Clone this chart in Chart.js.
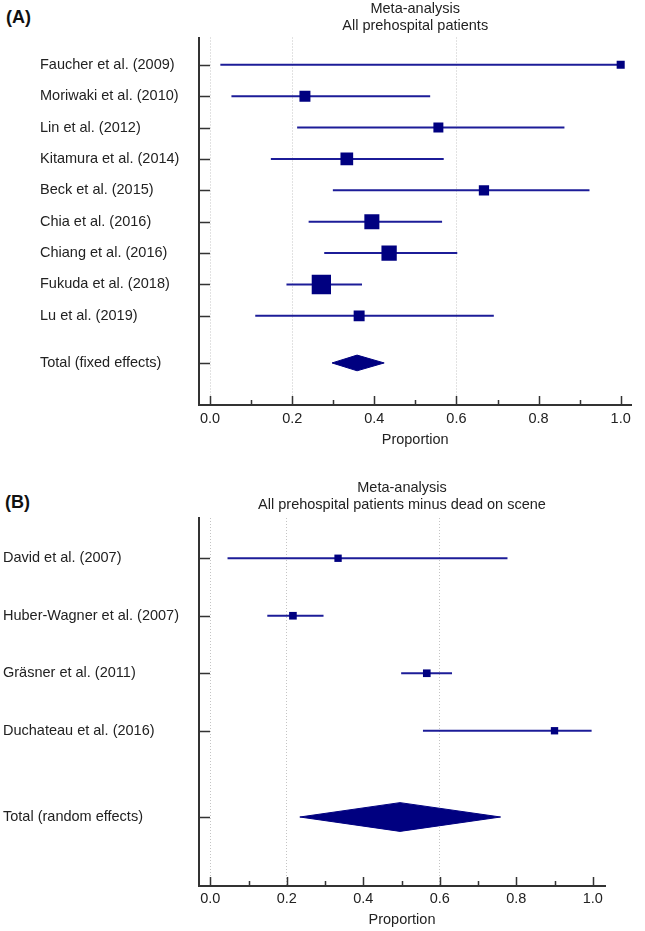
<!DOCTYPE html>
<html lang="en">
<head>
<meta charset="UTF-8">
<title>Meta-analysis forest plots</title>
<script src="https://cdn.jsdelivr.net/npm/chart.js"></script>
<style>
    html, body { margin: 0; padding: 0; background: #fff; }
    body { width: 645px; height: 931px; position: relative; overflow: hidden; font-family: "Liberation Sans", Arial, sans-serif; }
    .panel-tag { position: absolute; font-weight: bold; font-size: 18px; line-height: 1; color: #111; }
    .chart-box { position: absolute; left: 0; width: 645px; }
</style>
</head>
<body>
<div class="panel-tag" style="left:6px; top:8px;">(A)</div>
<div class="panel-tag" style="left:5px; top:493px;">(B)</div>
<div class="chart-box" style="top:0; height:460px;"><canvas id="forestA"></canvas></div>
<div class="chart-box" style="top:460px; height:480px;"><canvas id="forestB"></canvas></div>

<script>
// Panel A - all prehospital patients
const studiesA = ['Faucher et al. (2009)', 'Moriwaki et al. (2010)', 'Lin et al. (2012)', 'Kitamura et al. (2014)',
    'Beck et al. (2015)', 'Chia et al. (2016)', 'Chiang et al. (2016)', 'Fukuda et al. (2018)', 'Lu et al. (2019)'];
const estA = [1.0, 0.231, 0.556, 0.333, 0.667, 0.394, 0.436, 0.271, 0.363];
const lowA = [0.025, 0.052, 0.212, 0.148, 0.299, 0.240, 0.278, 0.186, 0.110];
const highA = [1.0, 0.536, 0.863, 0.569, 0.924, 0.565, 0.602, 0.370, 0.691];
const weightA = [4.3, 8.0, 6.6, 10.7, 7.0, 15.0, 15.6, 24.7, 8.0];
const totalA = ['Total (fixed effects)', 0.297, 0.358, 0.424]; // label, low, est, high

// Panel B - minus dead on scene
const studiesB = ['David et al. (2007)', 'Huber-Wagner et al. (2007)', 'Gräsner et al. (2011)', 'Duchateau et al. (2016)'];
const estB = [0.334, 0.216, 0.566, 0.900];
const lowB = [0.045, 0.149, 0.499, 0.556];
const highB = [0.777, 0.296, 0.632, 0.997];
const weightB = [24, 26, 26, 24];
const totalB = ['Total (random effects)', 0.234, 0.496, 0.759];

// axis
const xTickValues = [0, 0.1, 0.2, 0.3, 0.4, 0.5, 0.6, 0.7, 0.8, 0.9, 1.0];
const xTickLabels = ['0.0', '', '0.2', '', '0.4', '', '0.6', '', '0.8', '', '1.0'];
const xGridValues = [0, 0.2, 0.6];

const NAVY = '#000080';
const CI_COLOR = '#1c1c98';
const AXIS = '#333';
const TEXT = '#222';
const FONT_SIZE = 14.5;

Chart.defaults.font.family = '"Liberation Sans", Arial, sans-serif';
Chart.defaults.font.size = FONT_SIZE;
Chart.defaults.color = TEXT;

// small inward tick marks like the original software
const tickMarks = {
    id: 'tickMarks',
    afterDatasetsDraw(chart) {
        const {ctx, chartArea, scales: {x, y}} = chart;
        ctx.save();
        ctx.strokeStyle = AXIS;
        ctx.lineWidth = 1.5;
        ctx.beginPath();
        x.ticks.forEach((t, i) => {
            const px = Math.round(x.getPixelForValue(t.value)) + 0.5;
            ctx.moveTo(px, chartArea.bottom);
            ctx.lineTo(px, chartArea.bottom - (i % 2 === 0 ? 9 : 5));
        });
        y.ticks.forEach(t => {
            const py = Math.round(y.getPixelForValue(t.value)) + 0.5;
            ctx.moveTo(chartArea.left, py);
            ctx.lineTo(chartArea.left + 11, py);
        });
        ctx.stroke();
        ctx.restore();
    }
};

// two-line heading centred over the plot area
const panelTitle = {
    id: 'panelTitle',
    afterDraw(chart, args, opts) {
        const {ctx, chartArea} = chart;
        const cx = (chartArea.left + chartArea.right) / 2;
        ctx.save();
        ctx.fillStyle = TEXT;
        ctx.font = FONT_SIZE + 'px "Liberation Sans", Arial, sans-serif';
        ctx.textAlign = 'center';
        ctx.textBaseline = 'middle';
        opts.lines.forEach((t, k) => ctx.fillText(t, cx, opts.top + k * 17));
        ctx.restore();
    }
};

function forest(id, cfg) {
    const n = cfg.studies.length;
    const totalPos = n + 0.5;
    const yTicks = cfg.studies.map((s, i) => i).concat([totalPos]);
    const yLabels = cfg.studies.concat([cfg.total[0]]);
    const half = 0.25; // diamond half height in row units

    const datasets = [{
        // point estimates, square area ~ weight
        data: cfg.est.map((v, i) => ({x: v, y: i})),
        pointStyle: 'rect',
        pointRadius: cfg.weight.map(w => Math.sqrt(w) * cfg.boxScale * Math.SQRT1_2),
        backgroundColor: NAVY,
        borderWidth: 0,
        showLine: false
    }];

    cfg.low.forEach((lo, i) => {
        datasets.push({
            data: [{x: lo, y: i}, {x: cfg.high[i], y: i}],
            showLine: true,
            borderColor: CI_COLOR,
            borderWidth: 2,
            pointRadius: 0
        });
    });

    const [, tLo, tEst, tHi] = cfg.total;
    datasets.push({
        data: [
            {x: tLo, y: totalPos}, {x: tEst, y: totalPos - half},
            {x: tHi, y: totalPos}, {x: tEst, y: totalPos + half},
            {x: tLo, y: totalPos}
        ],
        showLine: true,
        fill: 'shape',
        backgroundColor: NAVY,
        borderColor: NAVY,
        borderWidth: 1,
        pointRadius: 0,
        tension: 0
    });

    return new Chart(document.getElementById(id), {
        type: 'scatter',
        data: {datasets},
        plugins: [tickMarks, panelTitle],
        options: {
            responsive: true,
            maintainAspectRatio: false,
            animation: false,
            layout: {padding: cfg.padding},
            plugins: {
                legend: {display: false},
                tooltip: {enabled: false},
                panelTitle: {lines: cfg.title, top: cfg.titleTop}
            },
            scales: {
                x: {
                    type: 'linear',
                    min: cfg.xMin,
                    max: cfg.xMax,
                    afterBuildTicks: s => { s.ticks = xTickValues.map(v => ({value: v})); },
                    afterFit: s => { s.height = 50; },
                    ticks: {
                        autoSkip: false,
                        maxRotation: 0,
                        padding: cfg.xTickPad,
                        callback: (v, i) => xTickLabels[i]
                    },
                    grid: {
                        drawTicks: false,
                        lineWidth: 1,
                        color: c => (c.tick && xGridValues.includes(c.tick.value)) ? '#c4c4c4' : 'rgba(0,0,0,0)'
                    },
                    border: {color: AXIS, width: 2, dash: [1, 2]},
                    title: {
                        display: true,
                        text: 'Proportion',
                        padding: {top: 0, bottom: cfg.xTitlePad}
                    }
                },
                y: {
                    type: 'linear',
                    reverse: true,
                    min: cfg.yMin,
                    max: cfg.yMax,
                    afterBuildTicks: s => { s.ticks = yTicks.map(v => ({value: v})); },
                    afterFit: s => { s.width = cfg.yWidth; },
                    ticks: {
                        autoSkip: false,
                        crossAlign: 'far',
                        callback: (v, i) => yLabels[i]
                    },
                    grid: {display: false, drawTicks: false},
                    border: {color: AXIS, width: 2}
                }
            }
        }
    });
}

forest('forestA', {
    studies: studiesA, est: estA, low: lowA, high: highA, weight: weightA, total: totalA,
    boxScale: 3.88,
    title: ['Meta-analysis', 'All prehospital patients'],
    titleTop: 8.5,
    padding: {left: 40, top: 37.5, right: 3, bottom: 5},
    yWidth: 159,
    xMin: -0.027, xMax: 1.026,
    yMin: -0.87, yMax: 10.84,
    xTickPad: 5.6, xTitlePad: 6.3
});

forest('forestB', {
    studies: studiesB, est: estB, low: lowB, high: highB, weight: weightB, total: totalB,
    boxScale: 1.5,
    title: ['Meta-analysis', 'All prehospital patients minus dead on scene'],
    titleTop: 28,
    padding: {left: 3, top: 58, right: 40, bottom: 4},
    yWidth: 196,
    xMin: -0.0296, xMax: 1.032,
    yMin: -0.70, yMax: 5.70,
    xTickPad: 4.3, xTitlePad: 7.3
});
</script>
</body>
</html>
